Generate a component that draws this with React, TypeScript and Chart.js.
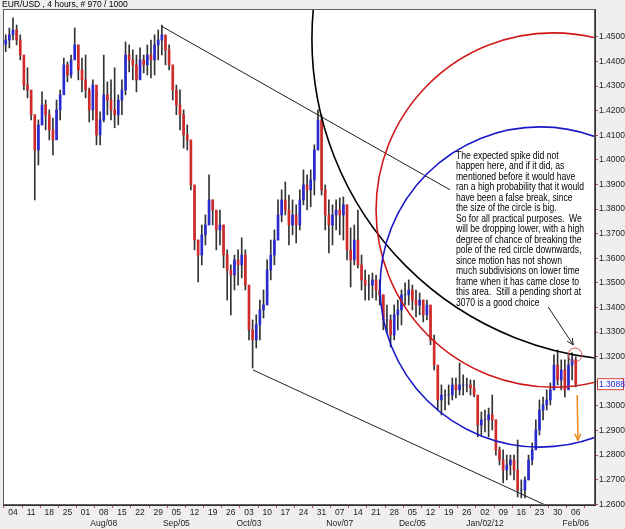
import React, { useEffect, useRef } from 'react';
import { Chart, registerables } from 'chart.js';

Chart.register(...registerables);

const TITLE = 'EUR/USD , 4 hours, # 970 / 1000';
const FIRST_DAY = '2011-06-30';
const LAST_DAY = '2012-02-06';
const firstOpen = 1.447;

const highs = [
  1.4508, 1.4536, 1.4577, 1.4548, 1.4508, 1.4398, 1.4374, 1.4276, 1.4183, 1.4162,
  1.4276, 1.4243, 1.4203, 1.4170, 1.4243, 1.4284, 1.4414, 1.4398, 1.4426, 1.4536,
  1.4467, 1.4414, 1.4426, 1.4292, 1.4325, 1.4284, 1.4195, 1.4426, 1.4317, 1.4325,
  1.4374, 1.4264, 1.4325, 1.4479, 1.4467, 1.4447, 1.4426, 1.4455, 1.4426, 1.4467,
  1.4487, 1.4508, 1.4528, 1.4548, 1.4487, 1.4467, 1.4345, 1.4304, 1.4284, 1.4203,
  1.4142, 1.4040, 1.3878, 1.3674, 1.3735, 1.3776, 1.3939, 1.3837, 1.3776, 1.3796,
  1.3735, 1.3634, 1.3573, 1.3613, 1.3634, 1.3683, 1.3634, 1.3430, 1.3349, 1.3370,
  1.3430, 1.3471, 1.3593, 1.3674, 1.3715, 1.3837, 1.3878, 1.3910, 1.3857, 1.3837,
  1.3817, 1.3878, 1.3959, 1.3939, 1.3959, 1.4061, 1.4203, 1.4183, 1.3898, 1.3837,
  1.3817, 1.3837, 1.3845, 1.3849, 1.3817, 1.3723, 1.3735, 1.3796, 1.3613, 1.3552,
  1.3532, 1.3540, 1.3532, 1.3512, 1.3451, 1.3410, 1.3370, 1.3410, 1.3430, 1.3471,
  1.3500, 1.3512, 1.3491, 1.3471, 1.3459, 1.3430, 1.3430, 1.3390, 1.3288, 1.3105,
  1.3085, 1.3065, 1.3085, 1.3113, 1.3113, 1.3174, 1.3126, 1.3113, 1.3105, 1.3105,
  1.2983, 1.2975, 1.2983, 1.2991, 1.3044, 1.2943, 1.2833, 1.2821, 1.2800, 1.2800,
  1.2800, 1.2861, 1.2699, 1.2711, 1.2800, 1.2849, 1.2943, 1.3024, 1.3036, 1.3065,
  1.3093, 1.3207, 1.3227, 1.3187, 1.3187, 1.3207, 1.3215, 1.3199,
];

const lows = [
  1.4439, 1.4455, 1.4487, 1.4467, 1.4406, 1.4284, 1.4252, 1.4162, 1.3837, 1.3979,
  1.4142, 1.4122, 1.4081, 1.4020, 1.4101, 1.4162, 1.4276, 1.4317, 1.4333, 1.4426,
  1.4325, 1.4276, 1.4252, 1.4154, 1.4162, 1.4061, 1.4061, 1.4154, 1.4183, 1.4162,
  1.4130, 1.4142, 1.4183, 1.4264, 1.4357, 1.4325, 1.4276, 1.4357, 1.4353, 1.4345,
  1.4333, 1.4345, 1.4406, 1.4426, 1.4386, 1.4365, 1.4243, 1.4183, 1.4122, 1.4048,
  1.4040, 1.3878, 1.3634, 1.3504, 1.3573, 1.3654, 1.3776, 1.3735, 1.3634, 1.3654,
  1.3561, 1.3430, 1.3370, 1.3471, 1.3491, 1.3520, 1.3471, 1.3268, 1.3154, 1.3235,
  1.3268, 1.3357, 1.3430, 1.3512, 1.3573, 1.3674, 1.3748, 1.3776, 1.3654, 1.3695,
  1.3662, 1.3715, 1.3817, 1.3796, 1.3809, 1.3857, 1.4040, 1.3857, 1.3715, 1.3622,
  1.3654, 1.3715, 1.3695, 1.3674, 1.3593, 1.3483, 1.3573, 1.3561, 1.3471, 1.3430,
  1.3430, 1.3439, 1.3430, 1.3410, 1.3309, 1.3296, 1.3239, 1.3268, 1.3309, 1.3329,
  1.3410, 1.3410, 1.3390, 1.3361, 1.3370, 1.3341, 1.3349, 1.3248, 1.3146, 1.2983,
  1.2963, 1.2983, 1.3004, 1.3024, 1.3032, 1.3044, 1.3044, 1.3057, 1.3044, 1.3036,
  1.2874, 1.2882, 1.2894, 1.2874, 1.2902, 1.2800, 1.2760, 1.2687, 1.2699, 1.2719,
  1.2699, 1.2630, 1.2626, 1.2626, 1.2699, 1.2760, 1.2841, 1.2882, 1.2943, 1.2983,
  1.3004, 1.3065, 1.3085, 1.3065, 1.3036, 1.3093, 1.3105, 1.3077,
];

const closes = [
  1.4487, 1.4508, 1.4528, 1.4487, 1.4426, 1.4304, 1.4284, 1.4183, 1.4040, 1.4142,
  1.4223, 1.4183, 1.4122, 1.4081, 1.4203, 1.4264, 1.4386, 1.4345, 1.4406, 1.4467,
  1.4365, 1.4325, 1.4284, 1.4203, 1.4304, 1.4101, 1.4162, 1.4264, 1.4243, 1.4203,
  1.4183, 1.4243, 1.4284, 1.4426, 1.4406, 1.4386, 1.4325, 1.4406, 1.4386, 1.4426,
  1.4406, 1.4467, 1.4487, 1.4508, 1.4447, 1.4386, 1.4284, 1.4223, 1.4183, 1.4101,
  1.4081, 1.3898, 1.3674, 1.3613, 1.3695, 1.3735, 1.3837, 1.3796, 1.3715, 1.3735,
  1.3613, 1.3552, 1.3532, 1.3593, 1.3573, 1.3613, 1.3491, 1.3309, 1.3268, 1.3329,
  1.3390, 1.3410, 1.3552, 1.3613, 1.3674, 1.3776, 1.3837, 1.3796, 1.3735, 1.3776,
  1.3735, 1.3837, 1.3898, 1.3878, 1.3918, 1.4040, 1.4162, 1.3878, 1.3776, 1.3735,
  1.3776, 1.3796, 1.3776, 1.3817, 1.3634, 1.3593, 1.3674, 1.3573, 1.3512, 1.3491,
  1.3491, 1.3512, 1.3471, 1.3451, 1.3349, 1.3349, 1.3288, 1.3370, 1.3390, 1.3451,
  1.3451, 1.3471, 1.3430, 1.3410, 1.3430, 1.3370, 1.3410, 1.3268, 1.3166, 1.3024,
  1.3044, 1.3044, 1.3044, 1.3085, 1.3065, 1.3085, 1.3085, 1.3085, 1.3073, 1.3044,
  1.2922, 1.2943, 1.2943, 1.2963, 1.2943, 1.2821, 1.2780, 1.2739, 1.2760, 1.2780,
  1.2739, 1.2658, 1.2658, 1.2699, 1.2780, 1.2821, 1.2902, 1.2983, 1.3004, 1.3024,
  1.3065, 1.3166, 1.3105, 1.3146, 1.3065, 1.3166, 1.3187, 1.3088,
];

const priceTicks = [
  1.26, 1.27, 1.28, 1.29, 1.3, 1.31, 1.32, 1.33, 1.34, 1.35,
  1.36, 1.37, 1.38, 1.39, 1.4, 1.41, 1.42, 1.43, 1.44, 1.45,
];
const hiddenPriceTicks = [1.31];

const monthLabels: [string, string][] = [
  ['2011-08-08', 'Aug/08'],
  ['2011-09-05', 'Sep/05'],
  ['2011-10-03', 'Oct/03'],
  ['2011-11-07', 'Nov/07'],
  ['2011-12-05', 'Dec/05'],
  ['2012-01-02', 'Jan/02/12'],
  ['2012-02-06', 'Feb/06'],
];

// drawn objects, anchored in (trading-day index, price)
const upperTrend = [[42.8, 1.4544], [122.4, 1.3878]];
const lowerTrend = [[68.1, 1.3146], [148.6, 1.2597]];
const blackCircle = { center: [172.8, 1.4491], edge: [103.1, 1.3687] };
const redCircle = { center: [150.8, 1.3796], edge: [102.0, 1.3796] };
const blueCircle = { center: [147.2, 1.3483], edge: [103.1, 1.3483] };
const markCircle = { center: [156.8, 1.3207], edge: [158.7, 1.3207] };
const orangeArrow = [[157.4, 1.3044], [157.6, 1.2861]];
const blackArrow = [[149.4, 1.3402], [156.3, 1.3248]];
const noteAnchor = [124.0, 1.4016];
const noteLines = [
  'The expected spike did not',
  'happen here, and if it did, as',
  'mentioned before it would have',
  'ran a high probability that it would',
  'have been a false break, since',
  'the size of the circle is big.',
  'So for all practical purposes.  We',
  'will be dropping lower, with a high',
  'degree of chance of breaking the',
  'pole of the red circle downwards,',
  'since motion has not shown',
  'much subdivisions on lower time',
  'frame when it has came close to',
  'this area.  Still a pending short at',
  '3070 is a good choice',
];

const X_MIN = -0.75;
const X_MAX = 162.3;
const Y_MIN = 1.2597;
const Y_MAX = 1.4613;

function tradingDays(): Date[] {
  const out: Date[] = [];
  const [y0, m0, d0] = FIRST_DAY.split('-').map(Number);
  const [y1, m1, d1] = LAST_DAY.split('-').map(Number);
  const end = Date.UTC(y1, m1 - 1, d1);
  for (let t = Date.UTC(y0, m0 - 1, d0); t <= end; t += 86400000) {
    const d = new Date(t);
    const wd = d.getUTCDay();
    if (wd !== 0 && wd !== 6) out.push(d);
  }
  return out;
}

const iso = (d: Date) => d.toISOString().slice(0, 10);
const FONT = '"Liberation Sans", Arial, sans-serif';

export default function App() {
  const ref = useRef<HTMLCanvasElement>(null);

  useEffect(() => {
    document.body.style.margin = '0';
    const canvas = ref.current;
    if (!canvas) return;
    const days = tradingDays();
    const mondays = days.map((d, i) => (d.getUTCDay() === 1 ? i : -1)).filter((i) => i >= 0);
    const monthMap = new Map(monthLabels);

    const opens = closes.map((c, i) => (i === 0 ? firstOpen : closes[i - 1]));
    const wickData = highs.map((h, i) => ({ x: i, y: [lows[i], h] }));
    const bodyData = closes.map((c, i) => ({ x: i, y: [opens[i], c] }));
    const bodyColors = closes.map((c, i) => (c >= opens[i] ? '#2a2ad0' : '#d02a2a'));

    const bgPlugin = {
      id: 'bg',
      beforeDraw(chart: any) {
        const { ctx, chartArea: a, width, height } = chart;
        ctx.save();
        ctx.fillStyle = '#efefef';
        ctx.fillRect(0, 0, width, height);
        ctx.fillStyle = '#ffffff';
        ctx.fillRect(a.left, a.top, a.right - a.left, a.bottom - a.top);
        ctx.fillStyle = '#000';
        ctx.font = `8.5px ${FONT}`;
        ctx.textBaseline = 'middle';
        ctx.textAlign = 'left';
        ctx.fillText(TITLE, 2, 4.5);
        ctx.restore();
      },
    };

    const overlayPlugin = {
      id: 'overlay',
      afterDatasetsDraw(chart: any) {
        const { ctx, chartArea: a } = chart;
        const xs = chart.scales.x;
        const ys = chart.scales.y;
        const P = (pt: number[]) => [xs.getPixelForValue(pt[0]), ys.getPixelForValue(pt[1])];
        ctx.save();
        ctx.beginPath();
        ctx.rect(a.left, a.top, a.right - a.left, a.bottom - a.top);
        ctx.clip();

        const line = (pts: number[][], color: string, w: number) => {
          const [x0, y0] = P(pts[0]);
          const [x1, y1] = P(pts[1]);
          ctx.strokeStyle = color;
          ctx.lineWidth = w;
          ctx.beginPath();
          ctx.moveTo(x0, y0);
          ctx.lineTo(x1, y1);
          ctx.stroke();
          return [x0, y0, x1, y1];
        };
        const arrow = (pts: number[][], color: string, w: number) => {
          const [x0, y0, x1, y1] = line(pts, color, w);
          const ang = Math.atan2(y1 - y0, x1 - x0);
          const L = 7;
          ctx.beginPath();
          ctx.moveTo(x1 - L * Math.cos(ang - 0.45), y1 - L * Math.sin(ang - 0.45));
          ctx.lineTo(x1, y1);
          ctx.lineTo(x1 - L * Math.cos(ang + 0.45), y1 - L * Math.sin(ang + 0.45));
          ctx.stroke();
        };
        const circle = (c: { center: number[]; edge: number[] }, color: string, w: number) => {
          const [cx, cy] = P(c.center);
          const [ex, ey] = P(c.edge);
          const r = Math.hypot(ex - cx, ey - cy);
          ctx.strokeStyle = color;
          ctx.lineWidth = w;
          ctx.beginPath();
          ctx.arc(cx, cy, r, 0, Math.PI * 2);
          ctx.stroke();
        };

        line(upperTrend, '#202020', 1);
        line(lowerTrend, '#202020', 1);
        circle(blackCircle, '#000000', 1.6);
        circle(redCircle, '#d01818', 1.6);
        circle(blueCircle, '#1818c8', 1.6);
        circle(markCircle, '#d05050', 1);
        arrow(orangeArrow, '#f08a1c', 1.5);
        arrow(blackArrow, '#202020', 1);

        // note
        const [nx, ny] = P(noteAnchor);
        ctx.font = `10.5px "Liberation Sans Narrow", "Arial Narrow", ${FONT}`;
        ctx.fillStyle = '#000';
        ctx.textBaseline = 'middle';
        ctx.textAlign = 'left';
        const w = ctx.measureText(noteLines[3]).width;
        const sx = w > 0 ? Math.max(0.6, Math.min(1.3, 128 / w)) : 1;
        noteLines.forEach((t, k) => {
          ctx.save();
          ctx.translate(nx, ny + k * 10.5);
          ctx.scale(sx, 1);
          ctx.fillText(t, 0, 0);
          ctx.restore();
        });
        ctx.restore();

        // frame
        ctx.save();
        ctx.strokeStyle = '#606060';
        ctx.lineWidth = 1;
        ctx.strokeRect(a.left + 0.5, a.top + 0.5, a.right - a.left - 1, a.bottom - a.top - 1);
        ctx.restore();
      },
      afterDraw(chart: any) {
        const { ctx, chartArea: a, width } = chart;
        const ys = chart.scales.y;
        const last = closes[closes.length - 1];
        const y = ys.getPixelForValue(last);
        ctx.save();
        ctx.fillStyle = '#ffffff';
        ctx.strokeStyle = '#d04040';
        ctx.lineWidth = 1;
        ctx.fillRect(a.right + 2, y - 6, width - a.right - 3, 12);
        ctx.strokeRect(a.right + 2.5, y - 5.5, width - a.right - 4, 11);
        ctx.fillStyle = '#1a1ae0';
        ctx.font = `8.5px ${FONT}`;
        ctx.textBaseline = 'middle';
        ctx.textAlign = 'left';
        ctx.fillText(last.toFixed(4), a.right + 4, y + 0.5);
        ctx.restore();
      },
    };

    const chart = new Chart(canvas, {
      type: 'bar',
      data: {
        datasets: [
          {
            label: 'range',
            data: wickData as any,
            backgroundColor: '#333333',
            barThickness: 1,
            grouped: false,
            order: 2,
          },
          {
            label: 'body',
            data: bodyData as any,
            backgroundColor: bodyColors,
            barThickness: 2,
            grouped: false,
            order: 1,
          },
        ],
      },
      options: {
        responsive: false,
        animation: false,
        devicePixelRatio: 1,
        layout: { padding: { left: 3, top: 9, right: 0, bottom: 0 } },
        plugins: { legend: { display: false }, tooltip: { enabled: false } },
        scales: {
          x: {
            type: 'linear',
            min: X_MIN,
            max: X_MAX,
            offset: false,
            grid: { drawOnChartArea: false, drawTicks: true, tickLength: 3, color: '#c05050' },
            border: { display: true, color: '#303030' },
            afterBuildTicks: (s: any) => {
              s.ticks = mondays.map((v) => ({ value: v }));
            },
            afterFit: (s: any) => {
              s.height = 24;
            },
            ticks: {
              autoSkip: false,
              maxRotation: 0,
              padding: 0,
              color: '#222',
              font: { size: 8.5, family: FONT, lineHeight: 1.2 },
              callback: (v: any) => {
                const d = days[Math.round(Number(v))];
                if (!d) return '';
                const dd = String(d.getUTCDate()).padStart(2, '0');
                const m = monthMap.get(iso(d));
                return m ? [dd, m] : dd;
              },
            },
          },
          y: {
            type: 'linear',
            position: 'right',
            min: Y_MIN,
            max: Y_MAX,
            grid: { drawOnChartArea: false, drawTicks: true, tickLength: 3, color: '#c05050' },
            border: { display: true, color: '#303030' },
            afterBuildTicks: (s: any) => {
              s.ticks = priceTicks.map((v) => ({ value: v }));
            },
            afterFit: (s: any) => {
              s.width = 30;
            },
            ticks: {
              padding: 1,
              color: '#222',
              font: { size: 8.5, family: FONT },
              callback: (v: any) => {
                const n = Number(v);
                if (hiddenPriceTicks.some((h) => Math.abs(h - n) < 1e-6)) return '';
                return n.toFixed(4);
              },
            },
          },
        },
      },
      plugins: [bgPlugin, overlayPlugin],
    });
    return () => chart.destroy();
  }, []);

  return (
    <div style={{ width: 625, height: 529 }}>
      <canvas ref={ref} width={625} height={529} style={{ display: 'block' }} />
    </div>
  );
}
